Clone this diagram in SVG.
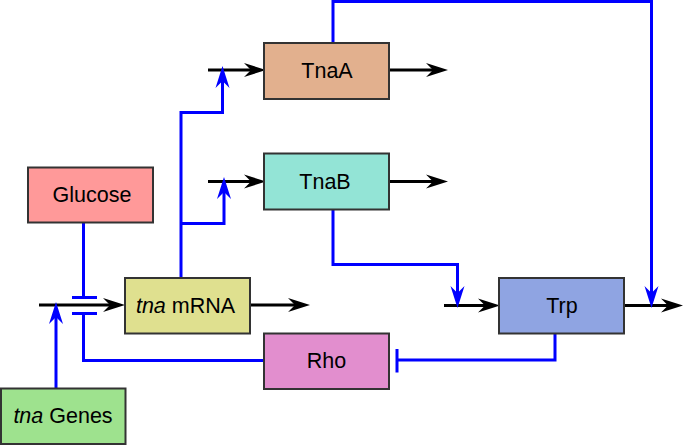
<svg xmlns="http://www.w3.org/2000/svg" width="685" height="445" viewBox="0 0 685 445">
<style>
.box{stroke:#333;stroke-width:2}
.lbl{font-family:"Liberation Sans",Arial,sans-serif;font-size:21.5px;fill:#000;text-anchor:middle;dominant-baseline:central}
.k{fill:none;stroke:#000;stroke-width:3}
.b{fill:none;stroke:#0000ff;stroke-width:3}
</style>
<defs>
<marker id="ak" markerUnits="userSpaceOnUse" viewBox="-15 -8 24 16" markerWidth="24" markerHeight="16" refX="0" refY="0" orient="auto"><path d="M8,0 L-14,-7 L-7,0 L-14,7 Z" fill="#000"/></marker>
<marker id="ab" markerUnits="userSpaceOnUse" viewBox="-15 -8 24 16" markerWidth="24" markerHeight="16" refX="0" refY="0" orient="auto"><path d="M8,0 L-14,-7 L-7,0 L-14,7 Z" fill="#0000ff"/></marker>
</defs>
<g id="connectors">
<path class="k" d="M39,305 H117" marker-end="url(#ak)"/>
<path class="k" d="M250,305 H302" marker-end="url(#ak)"/>
<path class="k" d="M208,70 H258" marker-end="url(#ak)"/>
<path class="k" d="M389,70 H440" marker-end="url(#ak)"/>
<path class="k" d="M208,181.5 H258" marker-end="url(#ak)"/>
<path class="k" d="M389,181.5 H440" marker-end="url(#ak)"/>
<path class="k" d="M444,305.5 H492" marker-end="url(#ak)"/>
<path class="k" d="M624,305.5 H675" marker-end="url(#ak)"/>
<path class="b" d="M56,388 V310" marker-end="url(#ab)"/>
<path class="b" d="M83.5,223 V297.5 M72,297.5 H97 M72,313.5 H97 M83.5,313.5 V360.5 H264"/>
<path class="b" d="M181,278 V112.5 H222.5 V74" marker-end="url(#ab)"/>
<path class="b" d="M181,223.5 H224 V185" marker-end="url(#ab)"/>
<path class="b" d="M333,43 V1.5 H651.5 V300" marker-end="url(#ab)"/>
<path class="b" d="M333,209 V264.5 H457.5 V300" marker-end="url(#ab)"/>
<path class="b" d="M555,334 V360 H397 M397,349 V372.5"/>
</g>
<g id="TnaA"><rect class="box" x="264" y="43" width="125" height="56" fill="#E2B08E"/><text class="lbl" x="327" y="71">TnaA</text></g>
<g id="TnaB"><rect class="box" x="264" y="153.5" width="125" height="56" fill="#93E4D6"/><text class="lbl" x="325" y="181.5">TnaB</text></g>
<g id="Glucose"><rect class="box" x="28" y="167.5" width="125" height="55" fill="#FF9999"/><text class="lbl" x="92" y="195">Glucose</text></g>
<g id="mRNA"><rect class="box" x="125" y="278" width="125" height="55.5" fill="#DFE08F"/><text class="lbl" x="185.5" y="305.5"><tspan font-style="italic">tna</tspan> mRNA</text></g>
<g id="Rho"><rect class="box" x="264" y="333.5" width="125" height="55.5" fill="#E28ECE"/><text class="lbl" x="326.5" y="361">Rho</text></g>
<g id="Trp"><rect class="box" x="499" y="278" width="125" height="55.5" fill="#8FA4E2"/><text class="lbl" x="562" y="305.5">Trp</text></g>
<g id="Genes"><rect class="box" x="1" y="388.5" width="124.5" height="55.5" fill="#9EE28E"/><text class="lbl" x="63" y="416"><tspan font-style="italic">tna</tspan> Genes</text></g>
</svg>
